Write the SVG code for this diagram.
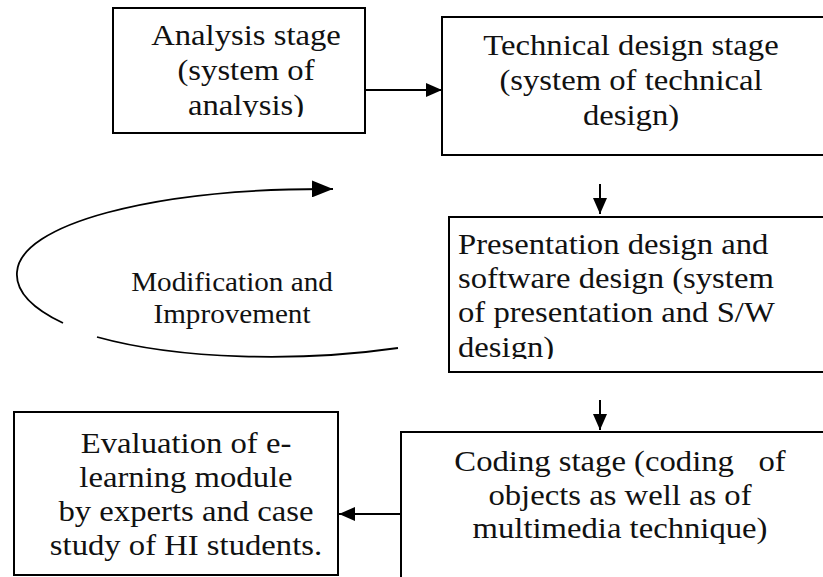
<svg xmlns="http://www.w3.org/2000/svg" width="823" height="577" viewBox="0 0 823 577">
  <style>
    .box { fill: #ffffff; stroke: #000000; stroke-width: 2; }
    .lbl { font-family: 'Liberation Serif', 'Times New Roman', serif; font-size: 30px; fill: #111111; text-anchor: middle; }
    .lbl-left { text-anchor: start; }
    .lbl-small { font-size: 27px; }
    .conn { fill: none; stroke: #000000; stroke-width: 2; }
    .loop { fill: none; stroke: #000000; stroke-width: 1.8; }
  </style>
  <defs>
    <marker id="arrow" markerUnits="userSpaceOnUse" markerWidth="16" markerHeight="14" refX="16" refY="7" orient="auto">
      <path d="M0,0 L16,7 L0,14 z" fill="#000000"/>
    </marker>
    <marker id="arrow-big" markerUnits="userSpaceOnUse" markerWidth="21" markerHeight="17" refX="21" refY="8.5" orient="auto">
      <path d="M0,0 L21,8.5 L0,17 z" fill="#000000"/>
    </marker>
    <clipPath id="clip-analysis"><rect x="114" y="9" width="250" height="108"/></clipPath>
    <clipPath id="clip-presentation"><rect x="450" y="218" width="373" height="141"/></clipPath>
  </defs>

  <!-- connectors -->
  <g id="connectors">
    <path class="conn" d="M365,90 L442,90" marker-end="url(#arrow)"/>
    <path class="conn" d="M600,184 L600,214" marker-end="url(#arrow)"/>
    <path class="conn" d="M600,400 L600,430" marker-end="url(#arrow)"/>
    <path class="conn" d="M401,514 L339,514" marker-end="url(#arrow)"/>
    <path class="loop" d="M63,323 C40,312 15,295 17,272 C20,225 150,188 333,189" marker-end="url(#arrow-big)"/>
    <path class="loop" d="M97,337 C180,360 300,362 398,348"/>
  </g>

  <!-- analysis stage -->
  <g id="analysis">
    <rect class="box" x="113" y="8" width="252" height="125"/>
    <g clip-path="url(#clip-analysis)">
      <g transform="translate(246,0) scale(1.09,1)">
        <text class="lbl" x="0" y="45">Analysis stage</text>
        <text class="lbl" x="0" y="80">(system of</text>
        <text class="lbl" x="0" y="115">analysis)</text>
      </g>
    </g>
  </g>

  <!-- technical design stage -->
  <g id="technical">
    <rect class="box" x="442" y="17" width="390" height="138"/>
    <g transform="translate(631,0) scale(1.09,1)">
      <text class="lbl" x="0" y="55">Technical design stage</text>
      <text class="lbl" x="0" y="90">(system of technical</text>
      <text class="lbl" x="0" y="125">design)</text>
    </g>
  </g>

  <!-- presentation and software design -->
  <g id="presentation">
    <rect class="box" x="449" y="217" width="385" height="155"/>
    <g clip-path="url(#clip-presentation)">
      <g transform="translate(458,0) scale(1.09,1)">
        <text class="lbl lbl-left" x="0" y="254">Presentation design and</text>
        <text class="lbl lbl-left" x="0" y="288">software design (system</text>
        <text class="lbl lbl-left" x="0" y="322">of presentation and S/W</text>
        <text class="lbl lbl-left" x="0" y="357">design)</text>
      </g>
    </g>
  </g>

  <!-- coding stage -->
  <g id="coding">
    <rect class="box" x="401" y="432" width="440" height="160"/>
    <g transform="translate(620,0) scale(1.09,1)">
      <text class="lbl" x="0" y="471" xml:space="preserve">Coding stage (coding   of</text>
      <text class="lbl" x="0" y="505">objects as well as of</text>
      <text class="lbl" x="0" y="538">multimedia technique)</text>
    </g>
  </g>

  <!-- evaluation -->
  <g id="evaluation">
    <rect class="box" x="14" y="412" width="324" height="163"/>
    <g transform="translate(186,0) scale(1.09,1)">
      <text class="lbl" x="0" y="453">Evaluation of e-</text>
      <text class="lbl" x="0" y="487">learning module</text>
      <text class="lbl" x="0" y="521">by experts and case</text>
      <text class="lbl" x="0" y="555">study of HI students.</text>
    </g>
  </g>

  <!-- loop label -->
  <g id="modification">
    <g transform="translate(232,0) scale(1.08,1)">
      <text class="lbl lbl-small" x="0" y="291">Modification and</text>
      <text class="lbl lbl-small" x="0" y="323">Improvement</text>
    </g>
  </g>
</svg>
